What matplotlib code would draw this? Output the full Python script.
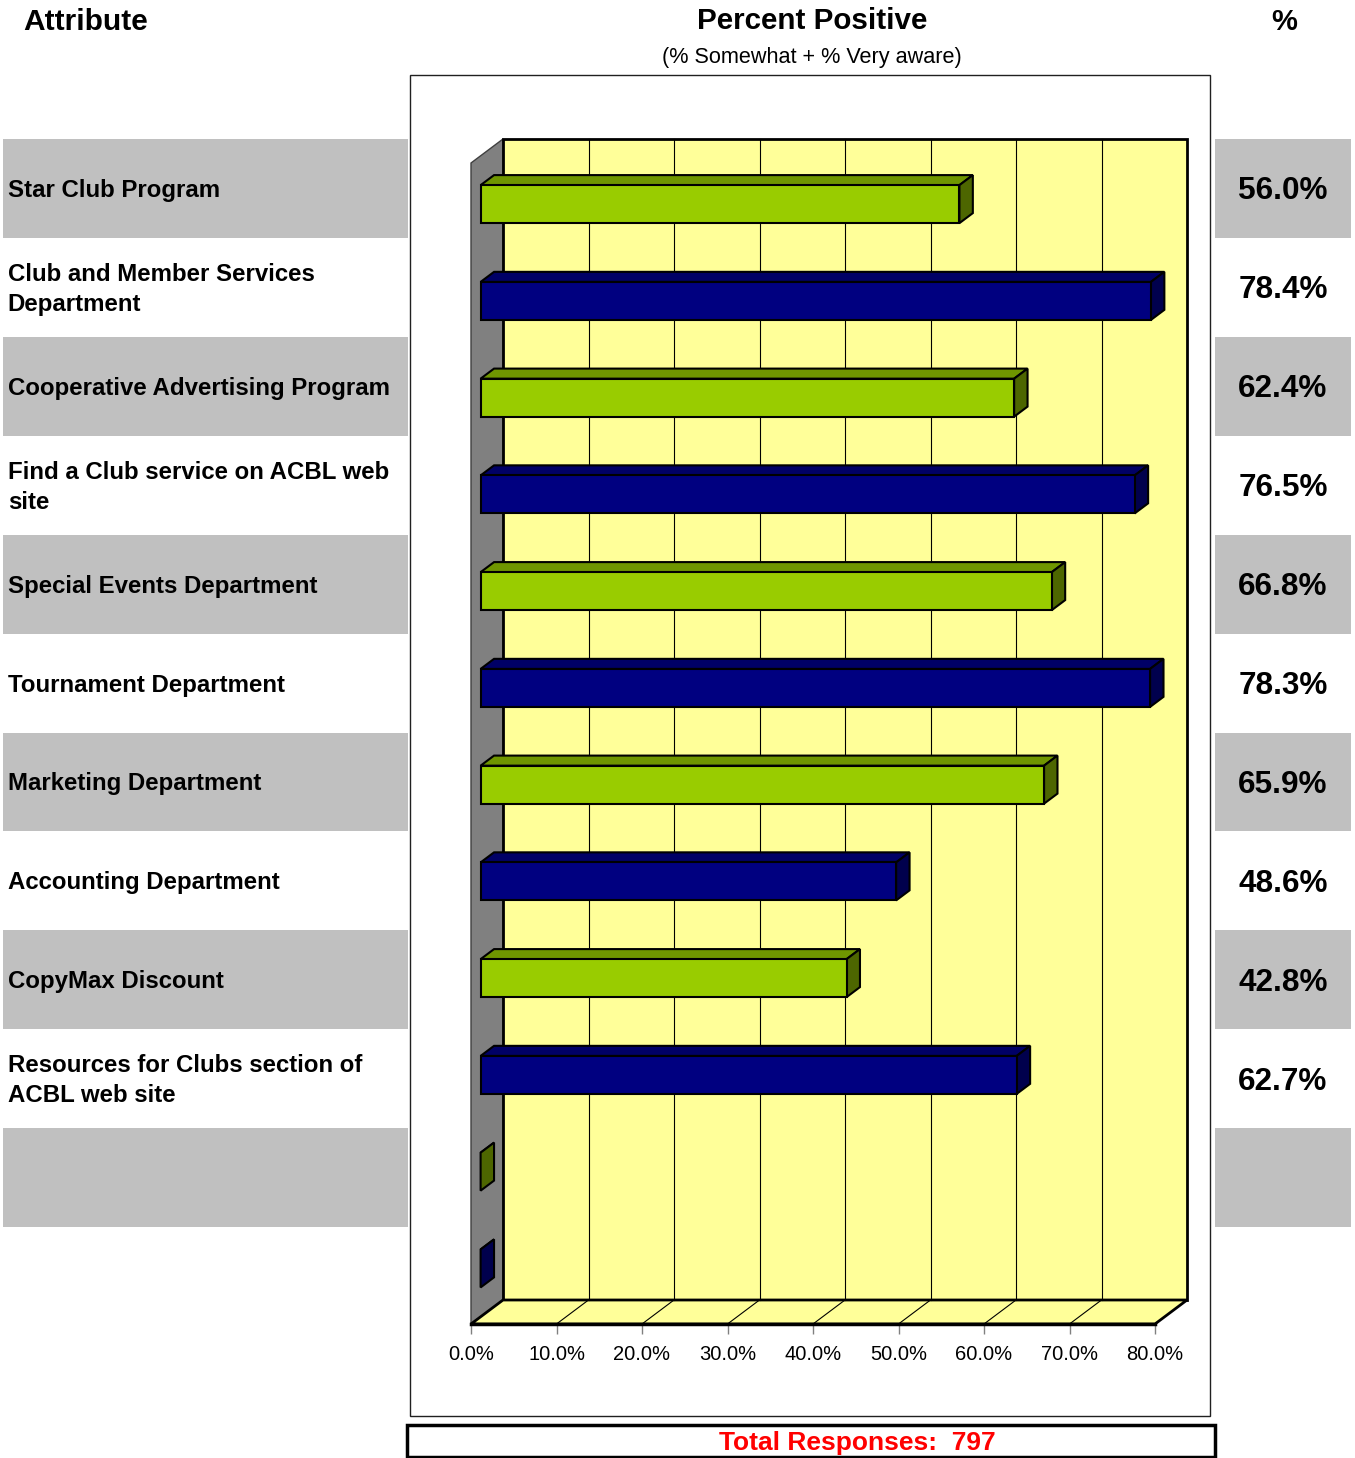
import matplotlib
matplotlib.use("Agg")
import matplotlib.pyplot as plt
from matplotlib.patches import Rectangle, Polygon

plt.rcParams['font.family'] = ['Liberation Sans', 'DejaVu Sans']

attributes = [
    "Star Club Program",
    "Club and Member Services\nDepartment",
    "Cooperative Advertising Program",
    "Find a Club service on ACBL web\nsite",
    "Special Events Department",
    "Tournament Department",
    "Marketing Department",
    "Accounting Department",
    "CopyMax Discount",
    "Resources for Clubs section of\nACBL web site",
    "",
    "",
]
percent_positive = [56.0, 78.4, 62.4, 76.5, 66.8, 78.3, 65.9, 48.6, 42.8, 62.7, 0.0, 0.0]
shown_values = [f"{v:.1f}%" for v in percent_positive[:10]] + ["", ""]
x_ticks = [0, 10, 20, 30, 40, 50, 60, 70, 80]
total_responses = 797

# front / top / side colours for the two alternating series
green = ("#99CC00", "#6F9600", "#4D6600")
navy = ("#000080", "#000066", "#00004D")

W, H = 1355, 1458
fig = plt.figure(figsize=(W / 100, H / 100), dpi=100)


def axes_px(x0, y0, x1, y1):
    return fig.add_axes([x0 / W, 1 - y1 / H, (x1 - x0) / W, (y1 - y0) / H])


def fig_rect(x0, y0, x1, y1, **kw):
    fig.add_artist(Rectangle((x0 / W, 1 - y1 / H), (x1 - x0) / W, (y1 - y0) / H,
                             transform=fig.transFigure, fill=False, **kw))


n = len(attributes)

# ---- headers
fig.text(86 / W, 1 - 22 / H, "Attribute", ha="center", va="center", fontsize=21.5, fontweight="bold")
fig.text(812 / W, 1 - 21 / H, "Percent Positive", ha="center", va="center", fontsize=21.3, fontweight="bold")
fig.text(812 / W, 1 - 57 / H, "(% Somewhat + % Very aware)", ha="center", va="center", fontsize=15.6)
fig.text(1284 / W, 1 - 22 / H, "%", ha="center", va="center", fontsize=21, fontweight="bold")

# ---- left table of attribute names
ax_l = axes_px(3, 139, 408, 1326)
ax_l.set_xlim(0, 1)
ax_l.set_ylim(n, 0)
ax_l.axis("off")
for i, name in enumerate(attributes):
    if i % 2 == 0:
        ax_l.axhspan(i, i + 1, color="#C0C0C0", lw=0)
    ax_l.text(0.012, i + 0.52, name, ha="left", va="center", fontsize=17.3,
              fontweight="bold", linespacing=1.38)

# ---- right table of values
ax_r = axes_px(1215, 139, 1351, 1326)
ax_r.set_xlim(0, 1)
ax_r.set_ylim(n, 0)
ax_r.axis("off")
for i, s in enumerate(shown_values):
    if i % 2 == 0:
        ax_r.axhspan(i, i + 1, color="#C0C0C0", lw=0)
    ax_r.text(0.5, i + 0.53, s, ha="center", va="center", fontsize=22.7, fontweight="bold")

# ---- frames
fig_rect(410, 75, 1210, 1416, ec="#202020", lw=1)
fig_rect(407, 1425, 1215, 1457, ec="black", lw=2.5)
fig.text(857 / W, 1 - 1443 / H, f"Total Responses:  {total_responses}", ha="center",
         va="center", fontsize=19, fontweight="bold", color="#FF0000")

# ---- pseudo-3D bar chart
ax = axes_px(471, 163, 1155, 1324)
ax.set_xlim(0, 80)
ax.set_ylim(n, 0)
ax.patch.set_visible(False)

DX = 32 * 80 / 684      # depth offset in data units
DY = -24 * n / 1161
f0, f1 = 0.30, 0.72     # bar front / back depth fractions
half = 19 * n / 1161    # half bar thickness


def poly(pts, **kw):
    ax.add_patch(Polygon(pts, closed=True, clip_on=False, **kw))


# walls and floor
poly([(0, 0), (DX, DY), (DX, n + DY), (0, n)], fc="#808080", ec="#404040", lw=1, zorder=1)
poly([(DX, DY), (80 + DX, DY), (80 + DX, n + DY), (DX, n + DY)], fc="#FFFF99", ec="black",
     lw=2, zorder=1)
poly([(0, n), (DX, n + DY), (80 + DX, n + DY), (80, n)], fc="#FFFF99", ec="black",
     lw=2, zorder=1)
for t in x_ticks[1:-1]:
    ax.plot([t + DX, t + DX], [DY, n + DY], color="black", lw=0.8, zorder=2, clip_on=False)
    ax.plot([t, t + DX], [n, n + DY], color="black", lw=0.8, zorder=2, clip_on=False)

# bars
for i, v in enumerate(percent_positive):
    front, top, side = green if i % 2 == 0 else navy
    x0 = f0 * DX
    yc = i + 0.5 + f0 * DY
    y_top, y_bot = yc - half, yc + half
    ddx, ddy = (f1 - f0) * DX, (f1 - f0) * DY
    poly([(x0, y_top), (x0 + v, y_top), (x0 + v + ddx, y_top + ddy), (x0 + ddx, y_top + ddy)],
         fc=top, ec="black", lw=1.5, zorder=3)
    poly([(x0 + v, y_top), (x0 + v, y_bot), (x0 + v + ddx, y_bot + ddy), (x0 + v + ddx, y_top + ddy)],
         fc=side, ec="black", lw=1.5, zorder=3)
    if v > 0:
        ax.barh(yc, v, height=2 * half, left=x0, color=front, edgecolor="black", lw=1.5,
                zorder=4, clip_on=False)

ax.set_xticks(x_ticks)
ax.set_xticklabels([f"{t:.1f}%" for t in x_ticks])
ax.set_yticks([])
ax.tick_params(axis="x", length=7, width=1, color="#808080", labelsize=14.5, pad=8)
for s in ("left", "top", "right"):
    ax.spines[s].set_visible(False)
ax.spines["bottom"].set_linewidth(2.5)
ax.spines["bottom"].set_zorder(5)

fig.savefig("out.png", dpi=100)
